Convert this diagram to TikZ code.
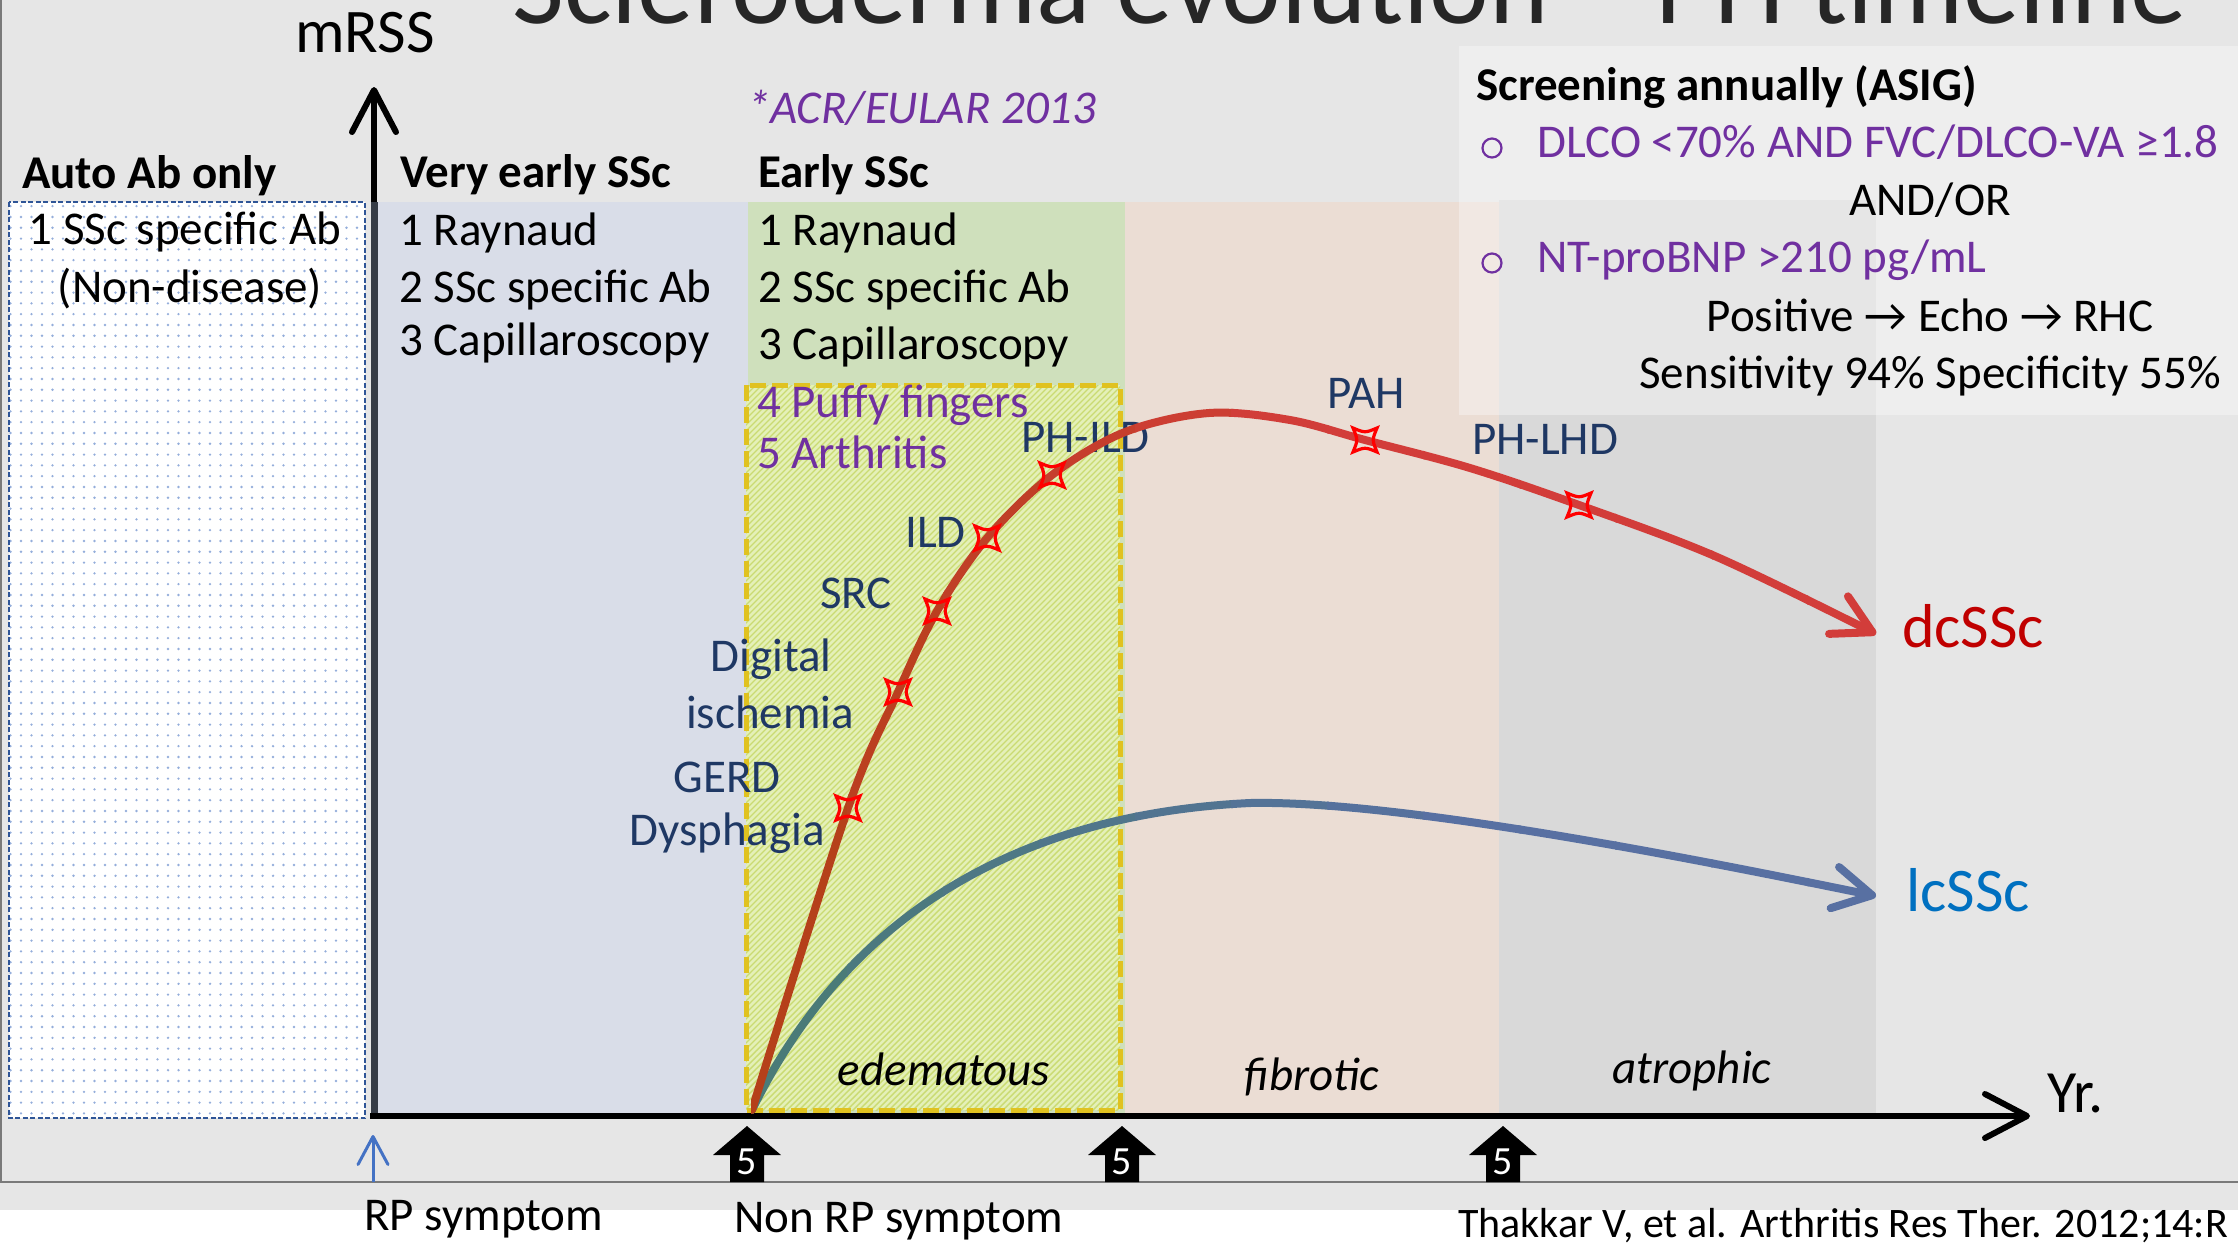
\documentclass[tikz,border=0pt]{standalone}
\usepackage{fontspec}
\setmainfont{Carlito}
\usetikzlibrary{arrows.meta,patterns}
\definecolor{bgc}{HTML}{E6E6E6}
\definecolor{veryearly}{HTML}{D9DDE8}
\definecolor{earlyg}{HTML}{CFE0BC}
\definecolor{hatchbg}{HTML}{E4F0B8}
\definecolor{hatchln}{HTML}{CADB72}
\definecolor{dashy}{HTML}{E0C220}
\definecolor{fibro}{HTML}{EBDDD4}
\definecolor{atro}{HTML}{D9D9D9}
\definecolor{navy}{HTML}{1F3864}
\definecolor{purp}{HTML}{7030A0}
\definecolor{darkred}{HTML}{C00000}
\definecolor{lblue}{HTML}{0070C0}
\definecolor{boxblue}{HTML}{2F5597}
\definecolor{dotblue}{HTML}{94AEDB}
\definecolor{redA}{HTML}{B5401A}
\definecolor{redB}{HTML}{D23D3A}
\definecolor{blueA}{HTML}{4A7B78}
\definecolor{blueB}{HTML}{5870A2}
\definecolor{axisdark}{HTML}{363C46}
\definecolor{rpblue}{HTML}{4472C4}
\definecolor{titlec}{HTML}{262626}
\definecolor{framec}{HTML}{7A7A7A}

\pgfdeclarepatternformonly{bluedots}{\pgfqpoint{-2pt}{-2pt}}{\pgfqpoint{2pt}{2pt}}{\pgfqpoint{10.5pt}{10.8pt}}{\pgfpathcircle{\pgfqpoint{0pt}{0pt}}{1.3pt}\pgfusepath{fill}}
\pgfdeclarepatternformonly{finehatch}{\pgfqpoint{-1pt}{-1pt}}{\pgfqpoint{7pt}{7pt}}{\pgfqpoint{6pt}{6pt}}{\pgfsetlinewidth{1.4pt}\pgfpathmoveto{\pgfqpoint{0pt}{0pt}}\pgfpathlineto{\pgfqpoint{6.1pt}{6.1pt}}\pgfusepath{stroke}}

\newcommand{\ssmark}[1]{\draw[starline, shift={#1}] (12,12) .. controls (7,0) .. (12,-12) .. controls (0,-7) .. (-12,-12) .. controls (-7,0) .. (-12,12) .. controls (0,7) .. cycle;}

\tikzset{
  txt/.style={inner sep=0pt, font=\fontsize{47}{56}\selectfont},
  lw/.style={txt, anchor=base west},
  lc/.style={txt, anchor=base},
  hd/.style={inner sep=0pt, anchor=base west, font=\fontsize{47}{56}\selectfont\bfseries},
  ital/.style={inner sep=0pt, anchor=base, font=\fontsize{47}{56}\selectfont\itshape},
  big/.style={inner sep=0pt, anchor=base west, font=\fontsize{62}{72}\selectfont},
  titletxt/.style={inner sep=0pt, anchor=base west, text=titlec, font=\fontsize{113}{130}\selectfont},
  fivelab/.style={inner sep=0pt, text=white, font=\fontsize{40}{48}\selectfont},
  bullet/.style={circle, draw=purp, line width=2.2pt, minimum size=19pt, inner sep=0pt},
  frameline/.style={draw=framec, line width=2pt},
  yellowdash/.style={draw=dashy, line width=5pt, dash pattern=on 16pt off 6pt},
  bluedash/.style={draw=boxblue, line width=2.5pt, dash pattern=on 5pt off 2.5pt},
  axisline/.style={draw=black, line width=6pt, -{Straight Barb[length=42pt,width=44pt,round]}},
  rparrow/.style={draw=rpblue, line width=3pt, -{Straight Barb[length=28pt,width=30pt,round]}},
  curve/.style={line width=8pt, line cap=round, -{Straight Barb[length=38pt,width=42pt,round]}},
  starline/.style={draw=red, line width=3.2pt},
}

\begin{document}
\begin{tikzpicture}[x=1pt,y=-1pt]
\useasboundingbox (0,0) rectangle (2238,1243);
\fill[white] (0,0) rectangle (2238,1243);
\fill[bgc] (0,0) rectangle (2238,1210);
% title (cut by the top edge)
\node[titletxt] (title) at (512,23) {Scleroderma evolution – PH timeline};
% frame lines
\draw[frameline] (1,0) -- (1,1182);
\draw[frameline] (0,1182) -- (2238,1182);
% phase regions
\fill[veryearly] (374,202) rectangle (748,1114);
\fill[earlyg] (748,202) rectangle (1125,1114);
\fill[fibro] (1125,202) rectangle (1499,1114);
\fill[atro] (1499,200) rectangle (1876,1114);
% hatched box
\fill[hatchbg] (746,385) rectangle (1120,1110);
\fill[pattern=finehatch, pattern color=hatchln] (746,385) rectangle (1120,1110);
\draw[yellowdash] (746,385) rectangle (1120,1110);
% auto antibody box
\fill[white] (9,202) rectangle (365,1118);
\fill[pattern=bluedots, pattern color=dotblue] (9,202) rectangle (365,1118);
\draw[bluedash] (9,202) rectangle (365,1118);
% screening box
\fill[white, opacity=0.35] (1459,46) rectangle (2238,415);

% axes
\coordinate (O) at (374,1116);
\coordinate (ymid) at (374,202);
\coordinate (ytop) at (374,87);
\coordinate (xstart) at (370,1116);
\coordinate (xend) at (2030,1116);
\draw[line width=7pt, axisdark] (O) -- (ymid);
\draw[axisline] (ymid) -- (ytop);
\draw[axisline] (xstart) -- (xend);
\coordinate (rpbase) at (373,1182);
\coordinate (rptip) at (373,1135);
\draw[rparrow] (rpbase) -- (rptip);

% five-year arrows
\foreach \x/\n in {747/a,1122/b,1503/c} {
  \fill[black] (\x,1126) -- (\x+34,1155) -- (\x+17,1155) -- (\x+17,1182) -- (\x-17,1182) -- (\x-17,1155) -- (\x-34,1155) -- cycle;
  \node[fivelab] (five\n) at (\x,1162) {5};
}

% axis labels
\node[big] (mrss) at (295,52) {mRSS};
\node[big, font=\fontsize{60}{70}\selectfont] (yr) at (2047,1112) {Yr.};

% headings
\node[hd] (hauto) at (22,188) {Auto Ab only};
\node[hd] (hvery) at (400,187) {Very early SSc};
\node[hd] (hearly) at (758,187) {Early SSc};
\node[lw, text=purp, font=\fontsize{47}{56}\selectfont\itshape] (acr) at (747,123) {*ACR/EULAR 2013};

% column texts
\node[lc] (auto1) at (185,244) {1 SSc specific Ab};
\node[lc] (auto2) at (190,302) {(Non-disease)};
\node[lw] (ve1) at (399,245) {1 Raynaud};
\node[lw] (ve2) at (399,302) {2 SSc specific Ab};
\node[lw] (ve3) at (399,355) {3 Capillaroscopy};
\node[lw] (e1) at (758,245) {1 Raynaud};
\node[lw] (e2) at (758,302) {2 SSc specific Ab};
\node[lw] (e3) at (758,359) {3 Capillaroscopy};
\node[lw, text=purp] (e4) at (757,417) {4 Puffy fingers};
\node[lw, text=purp] (e5) at (757,468) {5 Arthritis};

% screening text
\node[hd] (scr) at (1476,100) {Screening annually (ASIG)};
\node[bullet] (b1) at (1492,148) {};
\node[lw, text=purp] (dlco) at (1537,157) {DLCO <70\% AND FVC/DLCO-VA ≥1.8};
\node[lc] (andor) at (1930,215) {AND/OR};
\node[bullet] (b2) at (1492,263) {};
\node[lw, text=purp] (ntp) at (1537,272) {NT-proBNP >210 pg/mL};
\node[lc] (pos) at (1930,331) {Positive → Echo → RHC};
\node[lc] (sens) at (1930,388) {Sensitivity 94\% Specificity 55\%};

% complication labels
\node[lw, text=navy] (phild) at (1021,452) {PH-ILD};
\node[lw, text=navy] (ild) at (905,547) {ILD};
\node[lw, text=navy] (src) at (820,608) {SRC};
\node[lc, text=navy] (dig1) at (771,671) {Digital};
\node[lc, text=navy] (dig2) at (770,728) {ischemia};
\node[lc, text=navy] (gerd) at (727,792) {GERD};
\node[lc, text=navy] (dysph) at (727,845) {Dysphagia};
\node[lw, text=navy] (pah) at (1327,408) {PAH};
\node[lw, text=navy] (phlhd) at (1472,454) {PH-LHD};
\node[big, text=darkred] (dcnode) at (1902,647) {dcSSc};
\node[big, text=lblue] (lcnode) at (1906,911) {lcSSc};

% phase labels
\node[ital] (edem) at (944,1085) {edematous};
\node[ital] (fibr) at (1312,1090) {fibrotic};
\node[ital] (atr) at (1692,1083) {atrophic};

% bottom texts
\node[lw] (rp) at (364,1230) {RP symptom};
\node[lw] (nonrp) at (734,1232) {Non RP symptom};
\node[lw, font=\fontsize{42}{50}\selectfont] (cite) at (1458,1237) {Thakkar V, et al. Arthritis Res Ther. 2012;14:R};

% curves, drawn in vertical strips to imitate a colour gradient
\foreach \i in {0,...,11} {
  \pgfmathsetmacro\xa{752+\i*96}
  \pgfmathtruncatemacro\pr{max(0,min(100,(1250-\xa)/5))}
  \pgfmathtruncatemacro\pb{max(0,min(100,(1400-\xa)/6.5))}
  \colorlet{segr}{redA!\pr!redB}
  \colorlet{segb}{blueA!\pb!blueB}
  \begin{scope}
    \clip (\xa-1,300) rectangle (\xa+97,1160);
    \draw[curve, segb] (752,1110) .. controls (840,930) and (1000,815) .. (1250,803) .. controls (1400,800) and (1700,860) .. (1876,896);
    \draw[curve, segr] plot[smooth, tension=0.55] coordinates {(752,1110) (848,808) (898,692) (937,611) (987,538) (1052,475) (1125,432) (1209,413) (1290,420) (1365,440) (1470,468) (1579,505) (1717,557) (1876,634)};
  \end{scope}
}

% complication marks
\ssmark{(848,808)}
\ssmark{(898,692)}
\ssmark{(937,611)}
\ssmark{(987,538)}
\ssmark{(1052,475)}
\ssmark{(1365,440)}
\ssmark{(1579,505)}
\end{tikzpicture}
\end{document}
